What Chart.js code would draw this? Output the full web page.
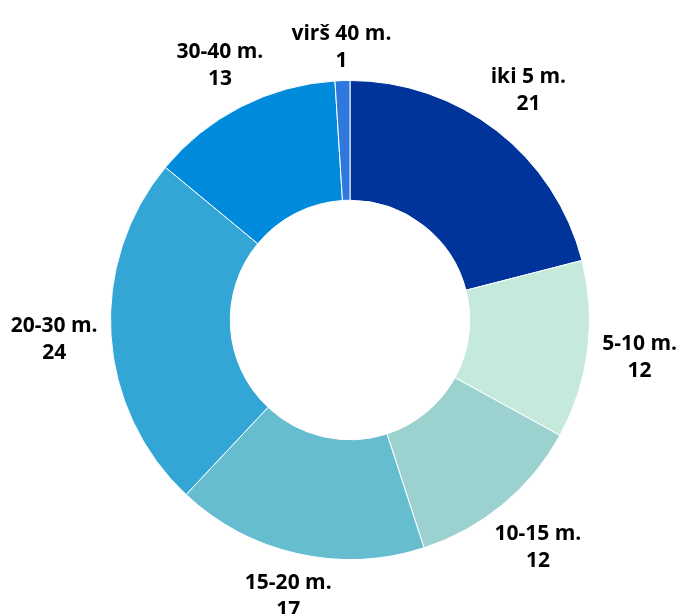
<!DOCTYPE html>
<html>
<head>
<meta charset="utf-8">
<script src="https://cdn.jsdelivr.net/npm/chart.js@4"></script>
<style>
    html, body { margin: 0; padding: 0; background: #fff; }
    #wrap { width: 678px; height: 614px; }
</style>
</head>
<body>
<div id="wrap"><canvas id="chart"></canvas></div>
<script>
let
    labels = ['iki 5 m.', '5-10 m.', '10-15 m.', '15-20 m.', '20-30 m.', '30-40 m.', 'virš 40 m.'],
    values = [21, 12, 12, 17, 24, 13, 1],
    colors = ['#00349a', '#c5eadc', '#9bd1cf', '#67bdd0', '#34a6d6', '#008adb', '#2f78de'];

Chart.defaults.font.family = '"Open Sans", sans-serif';

// draws the two-line labels outside each slice
const outsideLabels = {
    id: 'outsideLabels',
    afterDraw(chart) {
        let ctx = chart.ctx;
        let meta = chart.getDatasetMeta(0);
        ctx.save();
        ctx.font = 'bold 21px "Open Sans"';
        ctx.fillStyle = '#000';
        ctx.textAlign = 'center';
        ctx.textBaseline = 'middle';
        meta.data.forEach((arc, i) => {
            let mid = (arc.startAngle + arc.endAngle) / 2;
            let c = Math.cos(mid), s = Math.sin(mid);
            // labels sit a bit further out at the sides and bottom
            let dist = arc.outerRadius + 20 + 36 * Math.abs(c) + (s > 0 ? 16 : 12) * Math.abs(s);
            let x = arc.x + c * dist;
            let y = arc.y + s * dist;
            let w = Math.max(ctx.measureText(labels[i]).width, ctx.measureText(String(values[i])).width);
            x = Math.min(x, chart.width - w / 2 - 1);
            x = Math.max(x, w / 2 + 1);
            ctx.fillText(labels[i], x, y - 13);
            ctx.fillText(String(values[i]), x, y + 14);
        });
        ctx.restore();
    }
};

new Chart(document.getElementById('chart'), {
    type: 'doughnut',
    data: {
        labels: labels,
        datasets: [{
            data: values,
            backgroundColor: colors,
            borderColor: '#ffffff',
            borderWidth: 1
        }]
    },
    options: {
        responsive: true,
        maintainAspectRatio: false,
        animation: false,
        cutout: '50%',
        layout: {
            padding: { top: 80, bottom: 54, left: 110, right: 88 }
        },
        plugins: {
            legend: { display: false },
            tooltip: { enabled: false }
        }
    },
    plugins: [outsideLabels]
});
</script>
</body>
</html>
